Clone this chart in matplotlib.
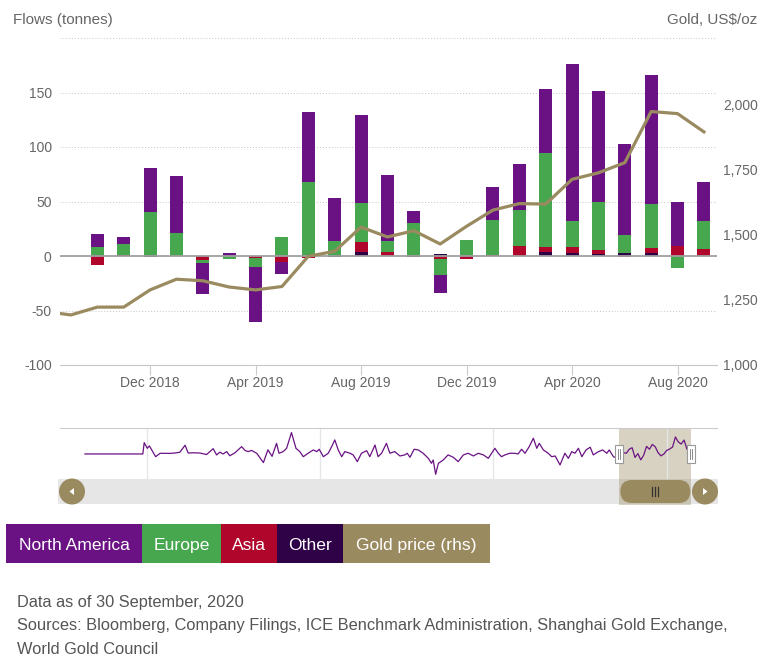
"""
Gold ETF flows by region with the gold price, plus the navigator strip below.
"""
import numpy as np
import matplotlib.pyplot as plt
from matplotlib.patches import Rectangle, FancyBboxPatch, Circle, Polygon

plt.rcParams['font.family'] = ['Liberation Sans', 'DejaVu Sans']

# Monthly data shown in the main window.
months = ['2018-08', '2018-09', '2018-10', '2018-11', '2018-12',
          '2019-01', '2019-02', '2019-03', '2019-04', '2019-05', '2019-06',
          '2019-07', '2019-08', '2019-09', '2019-10', '2019-11', '2019-12',
          '2020-01', '2020-02', '2020-03', '2020-04', '2020-05', '2020-06',
          '2020-07', '2020-08', '2020-09']
north_america = [0, 0, 12, 6, 40, 53, -29, 3, -50, -11, 64, 40, 81, 61, 11,
                 -16, 0, 30, 42, 58, 144, 102, 84, 118, 40, 35]
europe = [0, 0, 8, 10, 40.5, 20.7, -2.5, -2.5, -8.5, 17.6, 68, 13.5, 35.5, 10,
          30.5, -15.5, 14.5, 32.5, 32.7, 86.5, 24.2, 44, 16.4, 40.5, -11, 26.3]
asia = [0, 0, -8, 1, 0, 0, -3.5, 0, -2, -5.5, -1.5, 0, 9.3, 3.7, 0, -2.3, -3,
        0.6, 9.3, 4.6, 5.5, 3.8, -1, 4.3, 9, 6.2]
other = [0, 0, 0, 0, -1, 0, 0, 0, 0, 0, 0, -1, 3.7, 0, -1, 2, 0, 0, 0, 3.7,
         2.8, 1.5, 2.5, 2.8, 0.3, 0]
gold_price = [1205, 1192, 1222, 1222, 1288, 1329, 1323, 1299, 1288, 1301, 1417,
              1436, 1529, 1491, 1515, 1464, 1532, 1594, 1619, 1617, 1712, 1737,
              1776, 1972, 1964, 1894]

tick_months = ['2018-12', '2019-04', '2019-08', '2019-12', '2020-04', '2020-08']
tick_labels = ['Dec 2018', 'Apr 2019', 'Aug 2019', 'Dec 2019', 'Apr 2020', 'Aug 2020']
left_ticks = [-100, -50, 0, 50, 100, 150, 200]
right_ticks = [1000, 1250, 1500, 1750, 2000]

# Navigator: North America flows before the main window (decimal year, tonnes).
nav_year = [2003.21, 2004.88, 2004.92, 2005.01, 2005.07, 2005.25, 2005.38, 2005.66,
            2005.81, 2005.95, 2006.10, 2006.19, 2006.34, 2006.53, 2006.72, 2006.91,
            2007.01, 2007.10, 2007.20, 2007.30, 2007.39, 2007.54, 2007.73, 2007.83,
            2007.92, 2008.02, 2008.17, 2008.36, 2008.49, 2008.61, 2008.74, 2008.81,
            2008.93, 2009.03, 2009.17, 2009.30, 2009.41, 2009.51, 2009.65, 2009.80,
            2009.90, 2009.97, 2010.09, 2010.23, 2010.33, 2010.42, 2010.52, 2010.62,
            2010.71, 2010.86, 2010.95, 2011.07, 2011.19, 2011.34, 2011.43, 2011.58,
            2011.67, 2011.77, 2011.91, 2012.01, 2012.15, 2012.30, 2012.44, 2012.51,
            2012.59, 2012.71, 2012.83, 2012.97, 2013.12, 2013.21, 2013.26, 2013.33,
            2013.41, 2013.55, 2013.69, 2013.84, 2013.98, 2014.13, 2014.27, 2014.42,
            2014.56, 2014.71, 2014.85, 2015.04, 2015.14, 2015.23, 2015.33, 2015.47,
            2015.62, 2015.71, 2015.81, 2015.91, 2016.03, 2016.15, 2016.25, 2016.32,
            2016.44, 2016.58, 2016.68, 2016.78, 2016.92, 2017.06, 2017.16, 2017.26,
            2017.35, 2017.45, 2017.55, 2017.67, 2017.79, 2017.88, 2018.03, 2018.15,
            2018.27, 2018.34, 2018.46, 2018.58]
nav_flow = [0, 0, 96, 48, 68, -23, 6, 5, 8, 15, 74, 8, 10, 8, -5, 45,
            -8, 15, 0, 20, -15, 10, 62, 30, 20, 30, 5, -73, 35, -20, 90, 6,
            20, 48, 181, 48, 20, -23, 6, 34, 20, 40, -23, 6, 62, 119, 34, -23,
            20, 6, -8, -65, 6, 28, -23, 76, -23, 6, 90, 6, 20, -17, -8, 6,
            -28, 40, 34, 6, -37, -79, -51, -172, -79, -51, -8, -28, -65, -8, 6, -17,
            6, -8, -37, 48, 6, -23, -8, 6, 6, 0, 40, 6, 62, 133, 48, 90,
            34, 6, -23, -17, -93, 6, -37, 20, 6, 48, -23, 34, 57, -8, 20, 34,
            6, 34, -23, -37]
nav_grid_years = [2005, 2010, 2015, 2020]

legend_labels = ['North America', 'Europe', 'Asia', 'Other', 'Gold price (rhs)']
footer_lines = ['Data as of 30 September, 2020',
                'Sources: Bloomberg, Company Filings, ICE Benchmark Administration, Shanghai Gold Exchange,',
                'World Gold Council']

C_NA = '#6a1283'
C_EU = '#46a74e'
C_ASIA = '#b0062c'
C_OTHER = '#2f0146'
C_GOLD = '#9a8a60'
C_TEXT = '#666666'

W, H = 771, 661


def to_year(m):
    y, mo = m.split('-')
    return int(y) + (int(mo) - 1) / 12


x = np.array([to_year(m) for m in months])
xlim = (2018.632, 2020.708)

fig = plt.figure(figsize=(W / 100, H / 100), dpi=100)

# Background overlay in pixel coordinates (legend, scrollbar, texts).
back = fig.add_axes([0, 0, 1, 1], zorder=0)
back.set_xlim(0, W)
back.set_ylim(H, 0)
back.axis('off')

# Main chart.
ax = fig.add_axes([60 / W, (H - 365) / H, 657 / W, 327 / H], zorder=1)
ax.patch.set_visible(False)
width = 0.49 / 12
pos = np.zeros(len(x))
neg = np.zeros(len(x))
for vals, col in [(other, C_OTHER), (asia, C_ASIA), (europe, C_EU), (north_america, C_NA)]:
    v = np.array(vals, dtype=float)
    bottom = np.where(v >= 0, pos, neg)
    ax.bar(x, v, width, bottom=bottom, color=col, linewidth=0, zorder=2)
    pos += np.clip(v, 0, None)
    neg += np.clip(v, None, 0)
ax.axhline(0, color='#a0a0a0', linewidth=1.3, zorder=3)

ax.set_xlim(*xlim)
ax.set_ylim(-100, 200)
ax.set_yticks(left_ticks)
ax.set_yticklabels([str(t) if t < 200 else '' for t in left_ticks])
ax.yaxis.grid(True, linestyle=(0, (1, 2)), color='#c4c4c4', linewidth=0.7)
ax.set_axisbelow(True)
ax.set_xticks([to_year(m) for m in tick_months])
ax.set_xticklabels(tick_labels)
ax.tick_params(axis='x', length=7, color='#cccccc', pad=1, labelsize=10, labelcolor=C_TEXT)
ax.tick_params(axis='y', length=0, pad=6, labelsize=10, labelcolor=C_TEXT)
for side in ['top', 'left', 'right']:
    ax.spines[side].set_visible(False)
ax.spines['bottom'].set_color('#c8c8c8')

ax2 = ax.twinx()
ax2.set_zorder(2)
ax2.patch.set_visible(False)
ax2.plot(x, gold_price, color=C_GOLD, linewidth=2.3, solid_joinstyle='round', zorder=4)
ax2.set_ylim(1000, 2254)
ax2.set_yticks(right_ticks)
ax2.set_yticklabels([f'{t:,}' for t in right_ticks])
ax2.tick_params(axis='y', length=0, pad=4.5, labelsize=10, labelcolor=C_TEXT)
for side in ax2.spines:
    ax2.spines[side].set_visible(False)

back.text(13, 20, 'Flows (tonnes)', fontsize=11, color=C_TEXT, va='center', ha='left')
back.text(757, 20, 'Gold, US$/oz', fontsize=11, color=C_TEXT, va='center', ha='right')

# Navigator.
nav = fig.add_axes([60 / W, (H - 479) / H, 657 / W, 51 / H], zorder=1)
nav.patch.set_visible(False)
main_years = list(x[1:])
nav.plot(nav_year + main_years, nav_flow + north_america[1:], color=C_NA, linewidth=0.9)
for yr in nav_grid_years:
    nav.axvline(yr, color='#e6e6e6', linewidth=1, zorder=0)
nav.set_xlim(2002.49, 2021.45)
nav.set_ylim(-212, 220)
nav.set_xticks([])
nav.set_yticks([])
for side in ['bottom', 'left', 'right']:
    nav.spines[side].set_visible(False)
nav.spines['top'].set_color('#cccccc')

sx0 = nav.transData.transform((xlim[0], 0))[0]
sx1 = nav.transData.transform((xlim[1], 0))[0]

# Scrollbar track, selection mask, buttons and thumb.
back.add_patch(Rectangle((58, 479), 660, 25, color='#e6e6e6', linewidth=0))
back.add_patch(Rectangle((sx0, 428), sx1 - sx0, 77, color=C_GOLD, alpha=0.38, linewidth=0))
for cx, d in [(72, -1), (705, 1)]:
    back.add_patch(Circle((cx, 491.5), 13, color=C_GOLD, linewidth=0))
    back.add_patch(Polygon([(cx + 2.5 * d, 491.5), (cx - 2 * d, 488), (cx - 2 * d, 495)],
                           closed=True, color='white', linewidth=0))
back.add_patch(FancyBboxPatch((sx0 + 1, 480), sx1 - sx0 - 2, 23,
                              boxstyle='round,pad=0,rounding_size=11.5',
                              color=C_GOLD, linewidth=0))
cxm = (sx0 + sx1) / 2
for dx in (-3, 0, 3):
    back.plot([cxm + dx, cxm + dx], [487, 496], color='#333333', linewidth=0.9)

# Navigator handles on top of the line.
front = fig.add_axes([0, 0, 1, 1], zorder=5)
front.set_xlim(0, W)
front.set_ylim(H, 0)
front.axis('off')
for sx in (sx0, sx1):
    front.add_patch(Rectangle((sx - 4, 445), 8, 18, facecolor='white',
                              edgecolor='#999999', linewidth=0.8))
    for dx in (-1, 1):
        front.plot([sx + dx, sx + dx], [449, 459], color='#777777', linewidth=0.6)

# Legend boxes.
legend_colors = [C_NA, C_EU, C_ASIA, C_OTHER, C_GOLD]
legend_edges = [6, 142, 221, 277, 343, 490]
for i, (label, col) in enumerate(zip(legend_labels, legend_colors)):
    x0, x1 = legend_edges[i], legend_edges[i + 1]
    back.add_patch(Rectangle((x0, 524), x1 - x0, 39, color=col, linewidth=0))
    back.text((x0 + x1) / 2, 544, label, fontsize=12.6, color='white',
              ha='center', va='center_baseline')

# Footer.
for i, line in enumerate(footer_lines):
    back.text(17, 602 + i * 23.5, line, fontsize=11.8, color='#555555',
              ha='left', va='center')

fig.savefig('out.png', dpi=100)
